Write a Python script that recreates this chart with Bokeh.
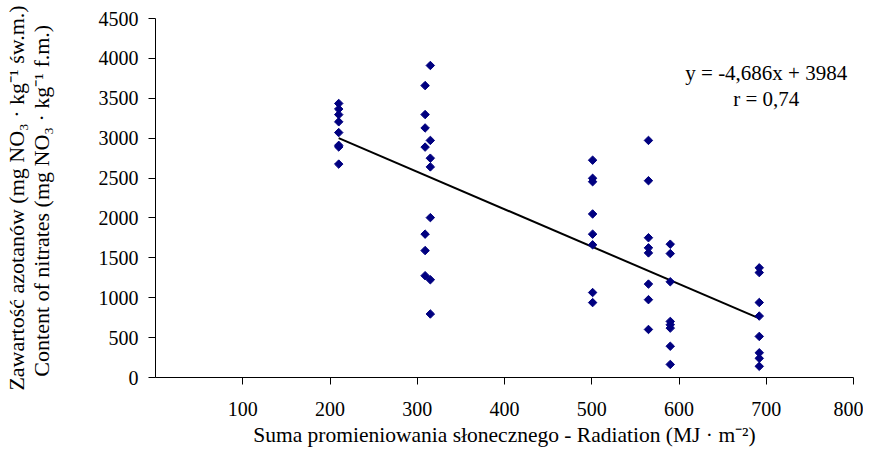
import math
from bokeh.plotting import figure
from bokeh.models import LinearAxis, FixedTicker, Label, Range1d, Title
from bokeh.embed import file_html
from bokeh.resources import INLINE

# ---- data ----
radiation = [210, 210, 210, 210, 210, 210, 210, 210,
             315, 309, 309, 309, 315, 309, 315, 315, 315, 309, 309, 309, 315, 315,
             501, 501, 501, 501, 501, 501, 501, 501,
             565, 565, 565, 565, 565, 565, 565, 565,
             590, 590, 590, 590, 590, 590, 590, 590,
             692, 692, 692, 692, 692, 692, 692, 692]
nitrates = [3435, 3365, 3295, 3205, 3070, 2910, 2890, 2675,
            3911, 3659, 3296, 3128, 2972, 2888, 2749, 2640, 2004, 1797, 1591, 1276, 1225, 796,
            2724, 2497, 2454, 2050, 1797, 1663, 1065, 939,
            2972, 2467, 1752, 1625, 1562, 1171, 976, 602,
            1671, 1553, 1200, 703, 661, 619, 392, 164,
            1375, 1315, 940, 770, 515, 310, 240, 140]
slope = -4.686
intercept = 3984
x_ticks = [100, 200, 300, 400, 500, 600, 700, 800]
y_ticks = [0, 500, 1000, 1500, 2000, 2500, 3000, 3500, 4000, 4500]
equation_text = "y = -4,686x + 3984"
r_text = "r = 0,74"
x_title = "Suma promieniowania słonecznego - Radiation (MJ · m⁻²)"
y_title_pl = "Zawartość azotanów (mg NO₃ · kg⁻¹ św.m.)"
y_title_en = "Content of nitrates  (mg NO₃ · kg⁻¹ f.m.)"

FONT = "Liberation Serif"

p = figure(output_backend="svg", toolbar_location=None,
           x_range=Range1d(0, 800), y_range=Range1d(0, 4500),
           frame_width=698, frame_height=359,
           min_border_left=0, min_border_top=18, min_border_right=10, min_border_bottom=0)
p.outline_line_color = None
p.xgrid.grid_line_color = None
p.ygrid.grid_line_color = None
p.background_fill_color = "white"
p.border_fill_color = "white"

# axes
xa = p.xaxis[0]
xa.ticker = FixedTicker(ticks=x_ticks)
ya = p.yaxis[0]
ya.ticker = FixedTicker(ticks=y_ticks)
ya.axis_label = y_title_en
for ax in (xa, ya):
    ax.axis_line_color = "black"
    ax.major_tick_line_color = "black"
    ax.major_tick_in = 0
    ax.major_tick_out = 7
    ax.minor_tick_line_color = None
    ax.major_label_text_font = FONT
    ax.major_label_text_font_size = "20px"
    ax.major_label_text_color = "black"
    ax.axis_label_text_font = FONT
    ax.axis_label_text_font_style = "normal"
    ax.axis_label_text_color = "black"
xa.major_label_standoff = 17
ya.major_label_standoff = 10
ya.axis_label_standoff = 42
ya.axis_label_text_font_size = "22px"

ya2 = LinearAxis(ticker=FixedTicker(ticks=[]), axis_label=y_title_pl)
ya2.axis_line_color = None
ya2.major_tick_line_color = None
ya2.minor_tick_line_color = None
ya2.major_tick_out = 0
ya2.major_label_standoff = 0
ya2.axis_label_standoff = -3
ya2.axis_label_text_font = FONT
ya2.axis_label_text_font_size = "22px"
ya2.axis_label_text_font_style = "normal"
ya2.axis_label_text_color = "black"
p.add_layout(ya2, "left")

# x-axis title, slightly right of centre as in the reference
p.add_layout(Title(text=x_title, align="center", offset=30, standoff=5,
                   text_font=FONT, text_font_size="21.5px", text_font_style="normal",
                   text_color="black"), "below")

# trend line
x_line = [min(radiation), max(radiation)]
y_line = [slope * v + intercept for v in x_line]
p.line(x_line, y_line, line_color="black", line_width=2)

# points
p.scatter(radiation, nitrates, marker="square", angle=math.pi / 4, size=6,
          fill_color="#000080", line_color="#000080")

# equation
p.add_layout(Label(x=700, y=3814, text=equation_text, text_align="center",
                   text_baseline="middle", text_font=FONT, text_font_size="21px",
                   text_color="black"))
p.add_layout(Label(x=700, y=3486, text=r_text, text_align="center",
                   text_baseline="middle", text_font=FONT, text_font_size="21px",
                   text_color="black"))

open("out.html", "w").write(file_html(p, INLINE))
